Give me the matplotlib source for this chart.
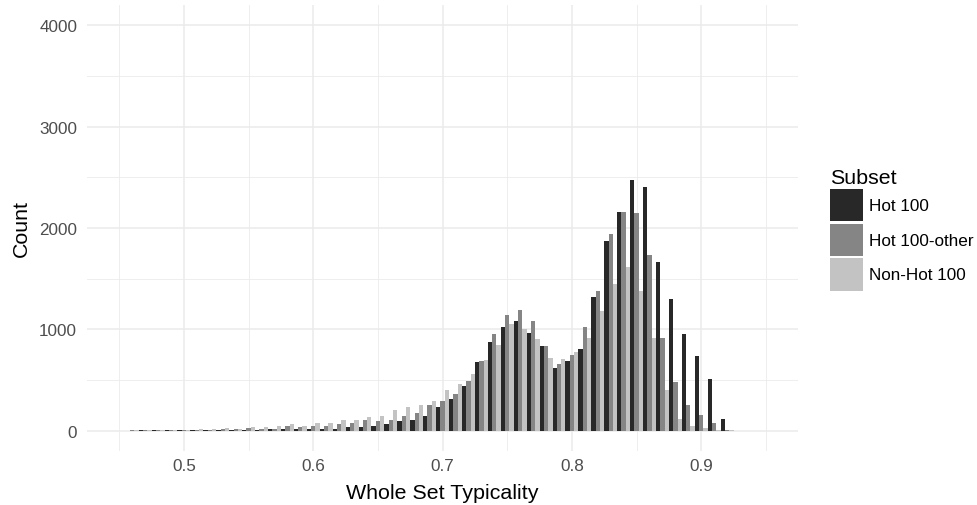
import numpy as np
import matplotlib
matplotlib.use("Agg")
import matplotlib.pyplot as plt
from matplotlib.patches import Patch

# ---- data (bin centres, counts per subset) ----
bins = [0.46, 0.47, 0.48, 0.49, 0.50, 0.51, 0.52, 0.53, 0.54, 0.55, 0.56, 0.57,
        0.58, 0.59, 0.60, 0.61, 0.62, 0.63, 0.64, 0.65, 0.66, 0.67, 0.68, 0.69,
        0.70, 0.71, 0.72, 0.73, 0.74, 0.75, 0.76, 0.77, 0.78, 0.79, 0.80, 0.81,
        0.82, 0.83, 0.84, 0.85, 0.86, 0.87, 0.88, 0.89, 0.90, 0.91, 0.92]
hot100 = [0, 1, 1, 2, 2, 3, 3, 5, 6, 8, 10, 12,
          13, 20, 16, 20, 20, 36, 36, 46, 62, 92, 108, 148,
          233, 309, 440, 677, 874, 1021, 1081, 965, 831, 617, 686, 805,
          1317, 1869, 2154, 2476, 2401, 1662, 1300, 949, 733, 512, 118]
hot100_other = [2, 3, 4, 5, 6, 8, 10, 12, 15, 25, 20, 20,
                46, 36, 46, 46, 62, 75, 102, 92, 108, 148, 177, 250,
                293, 364, 486, 686, 949, 1143, 1195, 1081, 831, 657, 745, 1021,
                1373, 1938, 2154, 2145, 1734, 916, 479, 250, 151, 75, 10]
non_hot100 = [4, 5, 6, 8, 10, 12, 14, 25, 20, 35, 35, 46,
              62, 46, 75, 75, 102, 108, 135, 148, 207, 233, 250, 293,
              397, 463, 555, 699, 847, 1054, 1005, 903, 716, 703, 778, 916,
              1182, 1445, 1619, 1373, 916, 397, 118, 46, 30, 10, 3]

series_names = ["Hot 100", "Hot 100-other", "Non-Hot 100"]
colors = ["#282828", "#858585", "#c3c3c3"]

x_ticks = [0.5, 0.6, 0.7, 0.8, 0.9]
y_ticks = [0, 1000, 2000, 3000, 4000]

plt.rcParams['font.family'] = ['Liberation Sans', 'DejaVu Sans']

fig = plt.figure(figsize=(9.77, 5.06), dpi=100)
ax = fig.add_axes([0.089, 0.107, 0.728, 0.881])

binw = 0.01
bw = binw / 3
x = np.array(bins)
for i, (vals, name, col) in enumerate(zip([hot100, hot100_other, non_hot100], series_names, colors)):
    ax.bar(x - binw / 2 + bw * (i + 0.5), vals, width=bw, color=col, linewidth=0, label=name, zorder=3)

ax.set_xlim(0.425, 0.975)
ax.set_ylim(-200, 4200)
ax.set_xticks(x_ticks)
ax.set_xticklabels([str(t) for t in x_ticks])
ax.set_yticks(y_ticks)
ax.set_yticklabels([str(t) for t in y_ticks])
ax.set_xticks(np.arange(0.45, 0.96, 0.1), minor=True)
ax.set_yticks(np.arange(500, 4000, 1000), minor=True)

ax.grid(True, which='major', color='#ebebeb', linewidth=1.1, zorder=0)
ax.grid(True, which='minor', color='#ebebeb', linewidth=0.6, zorder=0)
for s in ax.spines.values():
    s.set_visible(False)
ax.tick_params(which='both', length=0)
ax.tick_params(axis='x', labelsize=12.3, labelcolor='#4d4d4d', pad=5.5)
ax.tick_params(axis='y', labelsize=12.3, labelcolor='#4d4d4d', pad=7)
ax.set_axisbelow(True)

ax.set_xlabel("Whole Set Typicality", fontsize=15.4, color='black', labelpad=7)
ax.set_ylabel("Count", fontsize=15.4, color='black', labelpad=6)

handles = [Patch(facecolor=c, edgecolor='none') for c in colors]
leg = fig.legend(handles, series_names, loc='center left', bbox_to_anchor=(0.8495, 0.545),
                 frameon=False, fontsize=12.3, title="Subset", title_fontsize=15.4,
                 handlelength=1.93, handleheight=2.55, labelspacing=0.12,
                 handletextpad=0.35, borderpad=0, borderaxespad=0, alignment='left')

fig.savefig("out.png", dpi=100)
